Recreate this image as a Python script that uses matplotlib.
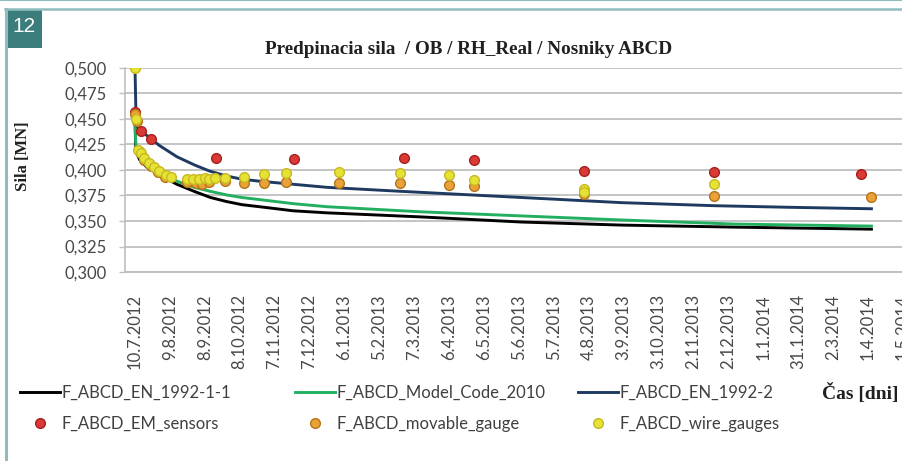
import numpy as np
import pandas as pd
import matplotlib
matplotlib.use('Agg')
import matplotlib.pyplot as plt
from matplotlib.patches import Rectangle
from matplotlib.lines import Line2D

# --- data (days since 10.7.2012) ---
start = pd.Timestamp('2012-07-10')

tick_labels = ['10.7.2012', '9.8.2012', '8.9.2012', '8.10.2012', '7.11.2012', '7.12.2012',
               '6.1.2013', '5.2.2013', '7.3.2013', '6.4.2013', '6.5.2013', '5.6.2013',
               '5.7.2013', '4.8.2013', '3.9.2013', '3.10.2013', '2.11.2013', '2.12.2013',
               '1.1.2014', '31.1.2014', '2.3.2014', '1.4.2014', '1.5.2014']

ec2_days = [0, 0.5, 1, 4, 10, 21, 36, 51, 65, 79, 92, 107, 136, 165, 246, 332, 418, 515, 633]
ec2_vals = [0.452, 0.425, 0.418, 0.410, 0.403, 0.395, 0.386, 0.379, 0.373, 0.369, 0.366,
            0.364, 0.360, 0.358, 0.354, 0.349, 0.346, 0.344, 0.342]

mc_days = [0, 0.5, 1, 4, 10, 21, 36, 51, 65, 79, 92, 107, 136, 165, 246, 332, 418, 515, 633]
mc_vals = [0.452, 0.430, 0.423, 0.417, 0.408, 0.398, 0.389, 0.383, 0.379, 0.3755, 0.373,
           0.371, 0.367, 0.364, 0.359, 0.355, 0.351, 0.347, 0.345]

ec22_days = [0, 1, 3, 7, 12, 21, 36, 51, 64, 79, 92, 107, 136, 165, 230, 290, 350, 418, 498, 560, 633]
ec22_vals = [0.500, 0.445, 0.441, 0.437, 0.432, 0.424, 0.413, 0.405, 0.399, 0.394, 0.391,
             0.389, 0.386, 0.383, 0.379, 0.3755, 0.372, 0.368, 0.365, 0.3635, 0.362]

em_days = [0, 5, 14, 70, 137, 231, 291, 386, 498, 624]
em_vals = [0.457, 0.438, 0.430, 0.412, 0.411, 0.412, 0.410, 0.399, 0.398, 0.396]

mov_days = [0, 2, 4, 8, 14, 20, 26, 45, 52, 58, 64, 77, 94, 111, 130, 175, 228, 270, 291, 386, 498, 633]
mov_vals = [0.455, 0.448, 0.418, 0.410, 0.404, 0.398, 0.393, 0.388, 0.387, 0.386, 0.388, 0.389,
            0.387, 0.387, 0.388, 0.387, 0.387, 0.385, 0.384, 0.376, 0.375, 0.374]

wire_days = [0, 1, 3, 5, 8, 12, 16, 21, 27, 31, 45, 50, 55, 60, 64, 69, 77, 94, 111, 130,
             175, 228, 270, 291, 386, 386, 498]
wire_vals = [0.500, 0.450, 0.420, 0.417, 0.412, 0.407, 0.403, 0.399, 0.395, 0.393, 0.391, 0.391,
             0.391, 0.392, 0.391, 0.392, 0.392, 0.393, 0.396, 0.397, 0.398, 0.397, 0.395, 0.390,
             0.381, 0.378, 0.386]


def to_dates(days):
    return start + pd.to_timedelta(np.array(days, dtype=float), unit='D')


W, H = 902, 461
fig = plt.figure(figsize=(W / 100, H / 100), dpi=100)
fig.patch.set_facecolor('white')

# axes runs a little past the right edge, so the last date label is cut like in the original
ax = fig.add_axes([125 / W, 1 - 272 / H, (904 - 125) / W, (272 - 68) / H])

l1, = ax.plot(to_dates(ec2_days), ec2_vals, color='black', lw=2.1, label='F_ABCD_EN_1992-1-1', zorder=3)
l2, = ax.plot(to_dates(mc_days), mc_vals, color='#22b060', lw=2.1, label='F_ABCD_Model_Code_2010', zorder=3)
l3, = ax.plot(to_dates(ec22_days), ec22_vals, color='#1f3a60', lw=2.1, label='F_ABCD_EN_1992-2', zorder=3)

p1, = ax.plot(to_dates(em_days), em_vals, ls='none', marker='o', ms=7, mfc='#d93a35', mec='#a8201c',
              mew=1.0, label='F_ABCD_EM_sensors', zorder=4)
p2, = ax.plot(to_dates(mov_days), mov_vals, ls='none', marker='o', ms=7, mfc='#e9a238', mec='#b57418',
              mew=1.0, label='F_ABCD_movable_gauge', zorder=5)
p3, = ax.plot(to_dates(wire_days), wire_vals, ls='none', marker='o', ms=7, mfc='#e4e233', mec='#c9b824',
              mew=1.0, label='F_ABCD_wire_gauges', zorder=6)

tick_dates = pd.to_datetime(tick_labels, format='%d.%m.%Y')
ax.set_xticks(tick_dates)
ax.set_xticklabels(tick_labels, rotation=90, fontsize=12, family='Lato', color='#484848')
ax.set_xlim(start - pd.Timedelta(days=8.6), start + pd.Timedelta(days=661))
ax.tick_params(axis='x', length=0, pad=16)

yt = np.arange(0.300, 0.5001, 0.025)
ax.set_yticks(yt)
ax.set_yticklabels([f'{v:.3f}'.replace('.', ',') for v in yt], fontsize=12, family='Lato', color='#484848')
ax.set_ylim(0.300, 0.500)
ax.tick_params(axis='y', length=4, width=1, color='#bfbfbf', pad=9)

ax.grid(axis='y', color='#c4c4c4', lw=1.4)
ax.set_axisbelow(True)
for s in ['top', 'right']:
    ax.spines[s].set_visible(False)
ax.spines['left'].set_color('#bfbfbf')
ax.spines['bottom'].set_color('#bfbfbf')
ax.spines['left'].set_linewidth(1.2)
ax.spines['bottom'].set_linewidth(1.4)

fig.text(469 / W, 1 - 50 / H, 'Predpinacia sila  / OB / RH_Real / Nosniky ABCD', ha='center', va='center',
         family='Liberation Serif', fontweight='bold', fontsize=13.8, color='#202020')
fig.text(23 / W, 1 - 156 / H, 'Sila [MN]', rotation=90, ha='center', va='center',
         family='Liberation Serif', fontweight='bold', fontsize=12, color='#202020')
fig.text(899 / W, 1 - 393 / H, 'Čas [dni]', ha='right', va='center',
         family='Liberation Serif', fontweight='bold', fontsize=14, color='#202020')

# legend in three columns
cols = [([l1, p1], 20), ([l2, p2], 295), ([l3, p3], 578)]
for handles, xpx in cols:
    leg = fig.legend(handles=handles, loc='upper left', bbox_to_anchor=(xpx / W, 1 - 385 / H),
                     frameon=False, borderpad=0, borderaxespad=0, handlelength=2.4, handletextpad=0.1,
                     labelspacing=0.87, prop={'family': 'Lato', 'size': 12})
    for t in leg.get_texts():
        t.set_color('#404040')

# frame decoration
teal = '#8fbdbd'
fig.add_artist(Line2D([5 / W, 1], [1 - 9.5 / H, 1 - 9.5 / H], color=teal, lw=1.8))
fig.add_artist(Line2D([0, 1], [1 - 0.5 / H, 1 - 0.5 / H], color=teal, lw=1.5))
fig.add_artist(Line2D([5.5 / W, 5.5 / W], [0, 1 - 9 / H], color=teal, lw=2.2))
fig.add_artist(Rectangle((5 / W, 1 - 48 / H), 37 / W, 39 / H, facecolor='#3b7d7d', edgecolor='none'))
fig.text(23.5 / W, 1 - 27 / H, '12', color='white', fontsize=15, family='Liberation Sans',
         ha='center', va='center')

fig.savefig('out.png', dpi=100)
